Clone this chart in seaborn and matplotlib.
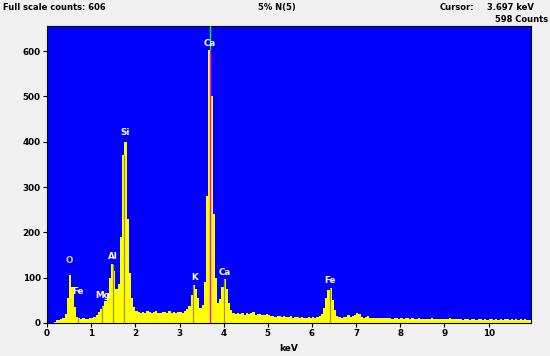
import numpy as np
import pandas as pd
import seaborn as sns
import matplotlib.pyplot as plt

# spectrum, counts per 0.05 keV channel starting at 0.00 keV
counts_0_2 = [0, 0, 0, 3, 6, 7, 8, 10, 20, 55, 105, 80, 35, 14, 10, 8, 10, 8, 9, 11,
              12, 14, 18, 24, 30, 38, 48, 65, 100, 130, 115, 75, 85, 190, 370, 400, 230, 110, 55, 35]
counts_2_4 = [27, 24, 22, 25, 23, 26, 24, 22, 25, 27, 23, 22, 25, 24, 21, 26, 23, 24, 22, 25,
              24, 23, 27, 30, 38, 62, 83, 76, 55, 32, 40, 90, 280, 602, 500, 240, 100, 45, 52, 80]
counts_4_6 = [96, 75, 45, 28, 22, 20, 22, 19, 21, 18, 22, 19, 21, 25, 18, 19, 20, 17, 18, 20,
              17, 15, 16, 14, 15, 16, 13, 15, 14, 13, 15, 12, 13, 14, 12, 13, 12, 11, 13, 12]
counts_6_8 = [13, 12, 14, 16, 20, 32, 55, 72, 78, 50, 28, 16, 13, 12, 14, 13, 18, 14, 16, 18,
              22, 20, 14, 12, 13, 15, 12, 11, 12, 10, 11, 10, 11, 10, 12, 10, 9, 10, 11, 9]
counts_8_11 = [10, 9, 10, 11, 9, 10, 9, 8, 10, 9, 8, 9, 8, 9, 10, 8, 9, 8, 9, 8,
               9, 8, 10, 8, 9, 8, 9, 8, 7, 9, 8, 7, 8, 9, 7, 8, 9, 7, 8, 7,
               8, 9, 7, 8, 7, 8, 7, 8, 9, 7, 8, 7, 8, 7, 8, 7, 8, 7, 6, 5]

# element markers (line energies) and their labels
marker_kev = [0.705, 1.254, 1.487, 1.740, 3.313, 4.013, 6.404]
elements = ['O', 'Fe', 'Mg', 'Al', 'Si', 'K', 'Ca', 'Ca', 'Fe']
label_kev = [0.51, 0.71, 1.26, 1.50, 1.76, 3.33, 3.69, 4.03, 6.40]
label_counts = [139, 69, 61, 147, 421, 101, 617, 111, 93]
label_colors = ['#c8c8ff', 'white', 'white', 'white', 'white', 'white', 'white', 'white', 'white']

cursor_kev = 3.697
yticks = [0, 100, 200, 300, 400, 500, 600]
xticks = list(range(0, 11))

counts = np.array(counts_0_2 + counts_2_4 + counts_4_6 + counts_6_8 + counts_8_11)
width = 0.05
centers = np.round(np.arange(len(counts)) * width + width / 2, 3)
df = pd.DataFrame({'keV': centers, 'counts': counts})

fig = plt.figure(figsize=(5.5, 3.56), dpi=100, facecolor='#f0f0f0')
ax = fig.add_axes([0.0855, 0.0927, 0.88, 0.835])
ax.set_facecolor('#0000ff')

sns.histplot(data=df, x='keV', weights='counts', binwidth=width, binrange=(0, len(counts) * width),
             element='step', fill=True, color='#ffff00', alpha=1, linewidth=0, ax=ax)

def height_at(e):
    i = min(int(e / width), len(counts) - 1)
    return counts[i]

# marker lines inside the spectrum
for e in marker_kev:
    ax.vlines(e, 0, height_at(e), color='#9a9a00', lw=0.9, zorder=3)
ax.vlines(cursor_kev, 0, height_at(cursor_kev), color='#ff00ff', lw=1, zorder=4)
ax.vlines(cursor_kev, height_at(cursor_kev), 660, color='#00ff00', lw=1, zorder=4)

for name, e, c, col in zip(elements, label_kev, label_counts, label_colors):
    ax.text(e, c, name, color=col, fontsize=6.3, fontweight='bold',
            ha='center', va='center', zorder=5)

ax.set_xlim(0, 10.96)
ax.set_ylim(0, 656)
ax.set_xticks(xticks)
ax.set_yticks(yticks)
ax.tick_params(labelsize=6.3, length=3, width=0.8, colors='black', pad=1.5)
for lab in ax.get_xticklabels() + ax.get_yticklabels():
    lab.set_fontweight('bold')
ax.set_xlabel('keV', fontsize=6.5, fontweight='bold', labelpad=4)
ax.set_ylabel('')
for s in ax.spines.values():
    s.set_color('black')
    s.set_linewidth(0.8)

hdr = dict(fontsize=6, fontweight='bold', va='center')
fig.text(3 / 550, 1 - 7.5 / 356, 'Full scale counts: 606', **hdr)
fig.text(277 / 550, 1 - 7.5 / 356, '5% N(5)', ha='center', **hdr)
fig.text(440 / 550, 1 - 7.5 / 356, 'Cursor:', **hdr)
fig.text(534 / 550, 1 - 7.5 / 356, '3.697 keV', ha='right', **hdr)
fig.text(548 / 550, 1 - 19.5 / 356, '598 Counts', ha='right', **hdr)

fig.savefig('out.png', dpi=100, facecolor=fig.get_facecolor())
